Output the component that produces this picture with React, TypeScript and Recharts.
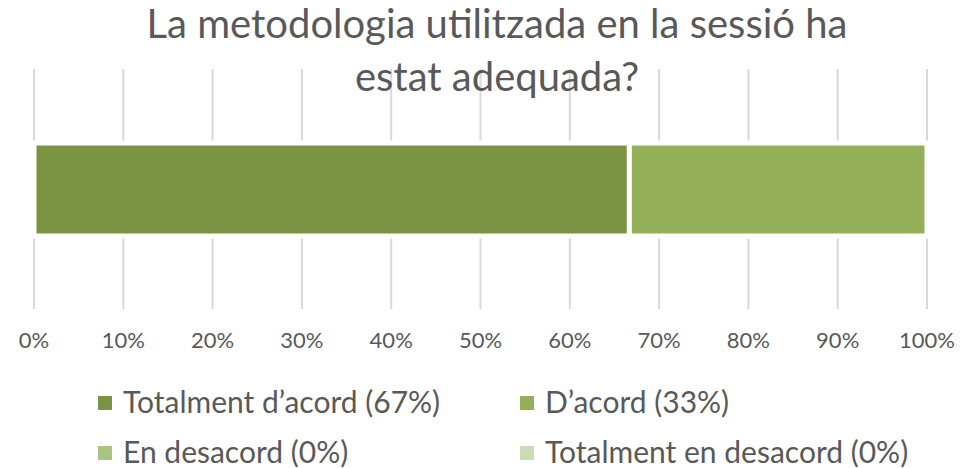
import { BarChart, Bar, XAxis, YAxis, CartesianGrid, Legend } from "recharts"

const categories = ["Sessió"]
const seriesNames = [
  "Totalment d’acord (67%)",
  "D’acord (33%)",
  "En desacord (0%)",
  "Totalment en desacord (0%)",
]
const seriesValues = [66.67, 33.33, 0, 0]
const seriesColors = ["#7B9443", "#93AF57", "#A9C47F", "#CCDBB6"]
const xTicks = [0, 10, 20, 30, 40, 50, 60, 70, 80, 90, 100]
const titleLines = ["La metodologia utilitzada en la sessió ha", "estat adequada?"]

const textColor = "#595959"
const font = "Lato, 'Noto Sans', sans-serif"

const data = categories.map((name) => {
  const row: Record<string, string | number> = { name }
  seriesNames.forEach((s, i) => {
    row[`s${i}`] = seriesValues[i]
  })
  return row
})

function LegendGrid() {
  return (
    <div style={{ display: "grid", gridTemplateColumns: "422px 400px", paddingLeft: 98, fontFamily: font }}>
      {seriesNames.map((s, i) => (
        <div key={s} style={{ display: "flex", alignItems: "center", height: 50 }}>
          <span
            style={{
              display: "inline-block",
              width: 14,
              height: 14,
              marginTop: 4,
              background: seriesColors[i],
              marginRight: 11,
            }}
          />
          <span style={{ fontSize: 30, lineHeight: "50px", color: textColor }}>{s}</span>
        </div>
      ))}
    </div>
  )
}

export default function App() {
  return (
    <div style={{ position: "absolute", left: 0, top: 0, width: 971, height: 468, background: "#fff" }}>
      <div
        style={{
          position: "absolute",
          left: 0,
          top: 3,
          width: 994,
          textAlign: "center",
          fontFamily: font,
          fontSize: 40,
          color: textColor,
          zIndex: 2,
          pointerEvents: "none",
        }}
      >
        {titleLines.map((t) => (
          <div key={t} style={{ height: 53, lineHeight: "40px" }}>{t}</div>
        ))}
      </div>
      <BarChart
        width={971}
        height={468}
        data={data}
        layout="vertical"
        margin={{ top: 69, right: 44, bottom: 0, left: 34 }}
      >
        <CartesianGrid horizontal={false} stroke="#D9D9D9" strokeWidth={2} />
        <XAxis
          type="number"
          domain={[0, 100]}
          ticks={xTicks}
          tickFormatter={(v) => `${v}%`}
          axisLine={false}
          tickLine={false}
          tickSize={6}
          tickMargin={17}
          height={59}
          interval={0}
          tick={{ fill: textColor, fontSize: 22, fontFamily: font }}
        />
        <YAxis type="category" dataKey="name" hide />
        <Legend
          verticalAlign="bottom"
          wrapperStyle={{ left: 0, top: 376, width: 971 }}
          content={() => <LegendGrid />}
        />
        {seriesNames.map((s, i) => (
          <Bar
            key={s}
            dataKey={`s${i}`}
            name={s}
            stackId="a"
            fill={seriesColors[i]}
            stroke="#ffffff"
            strokeWidth={5}
            barSize={93}
            isAnimationActive={false}
          />
        ))}
      </BarChart>
    </div>
  )
}
